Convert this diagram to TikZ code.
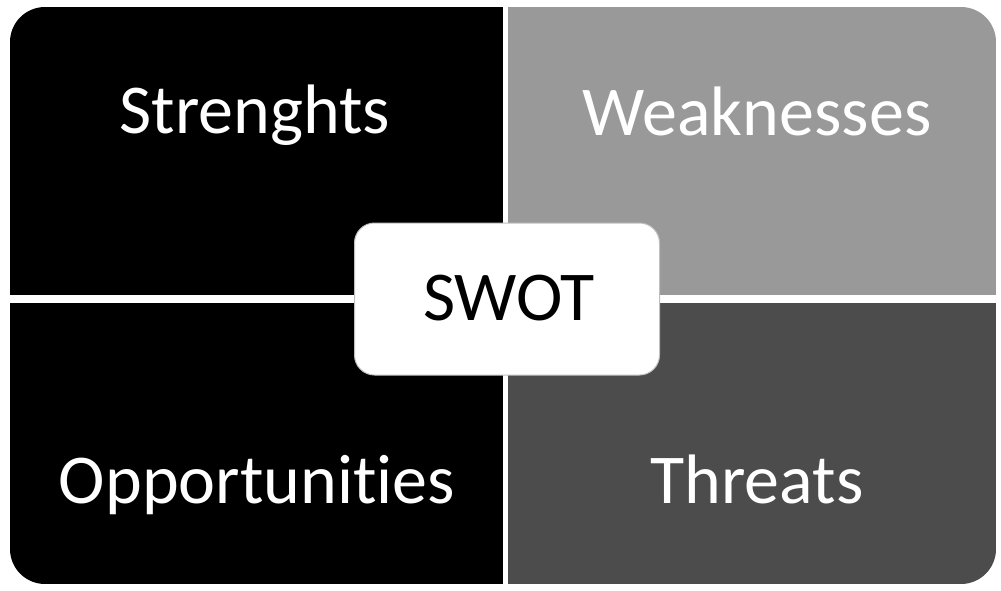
\documentclass[tikz,border=0pt]{standalone}
\usepackage{fontspec}
\setmainfont[Ligatures=NoCommon]{Carlito}
\begin{document}
\begin{tikzpicture}[x=1pt,y=-1pt,
  lbl/.style={text=white,font=\fontsize{70}{84}\selectfont,anchor=base,inner sep=0pt},
  quad/.style={draw=none}]
\useasboundingbox (0,0) rectangle (1001,590);
\fill[white] (0,0) rectangle (1001,590);
\begin{scope}
  \clip[rounded corners=35pt] (10,7) rectangle (996,584);
  \fill[black] (10,7) rectangle (503,295);
  \fill[black!40] (508,7) rectangle (996,295);
  \fill[black] (10,303) rectangle (503,584);
  \fill[black!70] (508,303) rectangle (996,584);
\end{scope}
\node[lbl] (s) at (255,133) {Strenghts};
\node[lbl] (w) at (757,135) {Weaknesses};
\node[lbl] (o) at (257,503) {Opportunities};
\node[lbl] (t) at (757,503) {Threats};
\node[draw=black!25,line width=1pt,fill=white,rounded corners=20pt,
  minimum width=305pt,minimum height=152pt,inner sep=0pt] (box) at (507,299) {};
\node[lbl,text=black] (swot) at (509,320) {SWOT};
\end{tikzpicture}
\end{document}
